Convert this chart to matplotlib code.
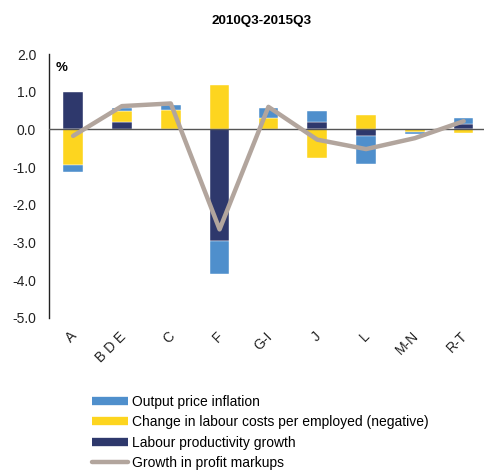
import numpy as np
import matplotlib.pyplot as plt
import matplotlib.transforms as mtransforms
from matplotlib.lines import Line2D

plt.rcParams['font.family'] = ['Liberation Sans', 'DejaVu Sans']

sectors = ["A", "B D E", "C", "F", "G-I", "J", "L", "M-N", "R-T"]
productivity = [1.00, 0.19, 0.02, -2.96, 0.0, 0.21, -0.16, 0.0, 0.15]
labour_costs = [-0.95, 0.29, 0.49, 1.19, 0.30, -0.76, 0.39, -0.06, -0.09]
price_inflation = [-0.19, 0.10, 0.15, -0.88, 0.28, 0.27, -0.75, -0.05, 0.16]
markups = [-0.17, 0.62, 0.69, -2.65, 0.60, -0.27, -0.52, -0.23, 0.22]

c_blue = "#4f8fcc"
c_yellow = "#fdd51f"
c_navy = "#2e386c"
c_line = "#b2a59d"

fig = plt.figure(figsize=(4.85, 4.73), dpi=100)
ax = fig.add_axes([0.1004, 0.3277, 0.906, 0.558])

x = np.arange(len(sectors))
width = 0.4

# stack positive and negative parts separately, navy -> yellow -> blue
pos = np.zeros(len(sectors))
neg = np.zeros(len(sectors))
for vals, col in [(productivity, c_navy), (labour_costs, c_yellow), (price_inflation, c_blue)]:
    vals = np.array(vals)
    bottoms = np.where(vals >= 0, pos, neg)
    ax.bar(x, vals, width, bottom=bottoms, color=col, edgecolor="white", linewidth=0.3, zorder=2)
    pos = pos + np.where(vals >= 0, vals, 0)
    neg = neg + np.where(vals < 0, vals, 0)

ax.axhline(0, color="#555555", linewidth=1.0, zorder=3)
ax.plot(x, markups, color=c_line, linewidth=3.2, solid_capstyle="round", zorder=4)

ax.set_xlim(-0.5, len(sectors) - 0.5)
ax.set_ylim(-5.0, 2.0)
ax.set_yticks(np.arange(-5, 2.1, 1.0))
ax.set_yticklabels([f"{v:.1f}" for v in np.arange(-5, 2.1, 1.0)], fontsize=10, color="#222222")
ax.set_xticks(x)
ax.set_xticklabels(sectors, rotation=45, ha="right", rotation_mode="anchor",
                   fontsize=10, color="#222222")
ax.tick_params(axis="y", length=0, pad=9)
ax.tick_params(axis="x", length=0, pad=8)
shift = mtransforms.ScaledTranslation(-3 / 100, 0, fig.dpi_scale_trans)
for lab in ax.get_xticklabels():
    lab.set_transform(lab.get_transform() + shift)

for s in ["top", "right", "bottom"]:
    ax.spines[s].set_visible(False)
ax.spines["left"].set_color("#222222")
ax.spines["left"].set_linewidth(1.0)

ax.text(0.015, 0.97, "%", transform=ax.transAxes, fontsize=9.5, fontweight="bold",
        ha="left", va="top")
fig.text(0.54, 0.955, "2010Q3-2015Q3", fontsize=9.7, fontweight="bold", ha="center", va="center")

handles = [
    Line2D([], [], color=c_blue, linewidth=6, solid_capstyle="butt"),
    Line2D([], [], color=c_yellow, linewidth=6, solid_capstyle="butt"),
    Line2D([], [], color=c_navy, linewidth=6, solid_capstyle="butt"),
    Line2D([], [], color=c_line, linewidth=3.2, solid_capstyle="round"),
]
labels = ["Output price inflation",
          "Change in labour costs per employed (negative)",
          "Labour productivity growth",
          "Growth in profit markups"]
fig.legend(handles, labels, loc="upper left", bbox_to_anchor=(92 / 485, 1 - 395 / 473),
           frameon=False, fontsize=10, handlelength=2.6, handletextpad=0.3,
           labelspacing=0.45, borderpad=0, borderaxespad=0)

fig.savefig("out.png", dpi=100)
